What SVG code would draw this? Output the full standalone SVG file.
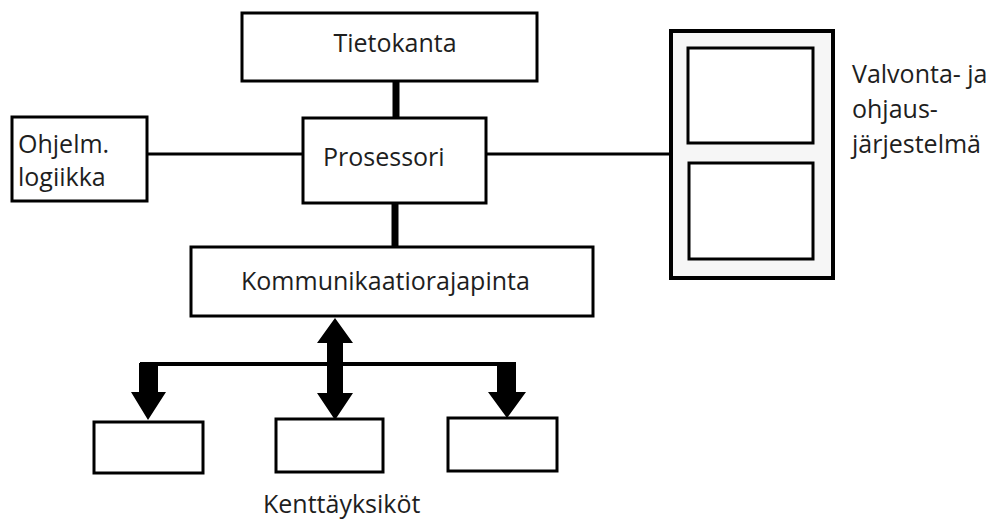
<svg xmlns="http://www.w3.org/2000/svg" width="998" height="521" viewBox="0 0 998 521">
<style>
.box{fill:#fff;stroke:#000;stroke-width:3}
.t{font-family:"Open Sans","Noto Sans",sans-serif;font-size:25px;fill:#1e1e1e}
.ln{stroke:#000;stroke-width:3;fill:none}
.thick{stroke:#000;stroke-width:7;fill:none}
</style>
<rect width="998" height="521" fill="#fff"/>
<g id="connectors">
<line class="thick" x1="396" y1="81" x2="396" y2="118"/>
<line class="thick" x1="395" y1="203" x2="395" y2="247"/>
<line class="ln" x1="147" y1="154" x2="303" y2="154"/>
<line class="ln" x1="486" y1="154" x2="671" y2="154"/>
<line stroke="#000" stroke-width="4" x1="140" y1="364" x2="516" y2="364"/>
<polygon fill="#000" points="335,318 353,343 343,343 343,393 353,393 335,420 317,393 327,393 327,343 317,343"/>
<polygon fill="#000" points="139,363 158,363 158,392 166,392 148,420 131,392 139,392"/>
<polygon fill="#000" points="497,363 516,363 516,392 526,392 507,418 488,392 497,392"/>
</g>
<g id="tietokanta">
<rect class="box" x="242" y="13" width="295" height="68"/>
<text class="t" x="395" y="52" text-anchor="middle">Tietokanta</text>
</g>
<g id="prosessori">
<rect class="box" x="303" y="118" width="183" height="85"/>
<text class="t" x="323" y="166">Prosessori</text>
</g>
<g id="ohjelm">
<rect class="box" x="12" y="117" width="135" height="84"/>
<text class="t" x="18" y="153">Ohjelm.</text>
<text class="t" x="18" y="186">logiikka</text>
</g>
<g id="kommunikaatio">
<rect class="box" x="191" y="247" width="402" height="69"/>
<text class="t" x="241" y="290">Kommunikaatiorajapinta</text>
</g>
<g id="valvonta">
<rect x="671" y="31" width="162" height="247" fill="#f6f6f6" stroke="#000" stroke-width="4"/>
<rect class="box" x="688" y="48" width="125" height="95"/>
<rect class="box" x="689" y="163" width="124" height="96"/>
<text class="t" x="852" y="83">Valvonta- ja</text>
<text class="t" x="852" y="118">ohjaus-</text>
<text class="t" x="852" y="153">järjestelmä</text>
</g>
<g id="kentta1"><rect class="box" x="94" y="422" width="109" height="51"/></g>
<g id="kentta2"><rect class="box" x="276" y="419" width="107" height="53"/></g>
<g id="kentta3"><rect class="box" x="448" y="418" width="109" height="53"/></g>
<g id="kenttayksikot"><text class="t" x="263" y="513">Kenttäyksiköt</text></g>
</svg>
